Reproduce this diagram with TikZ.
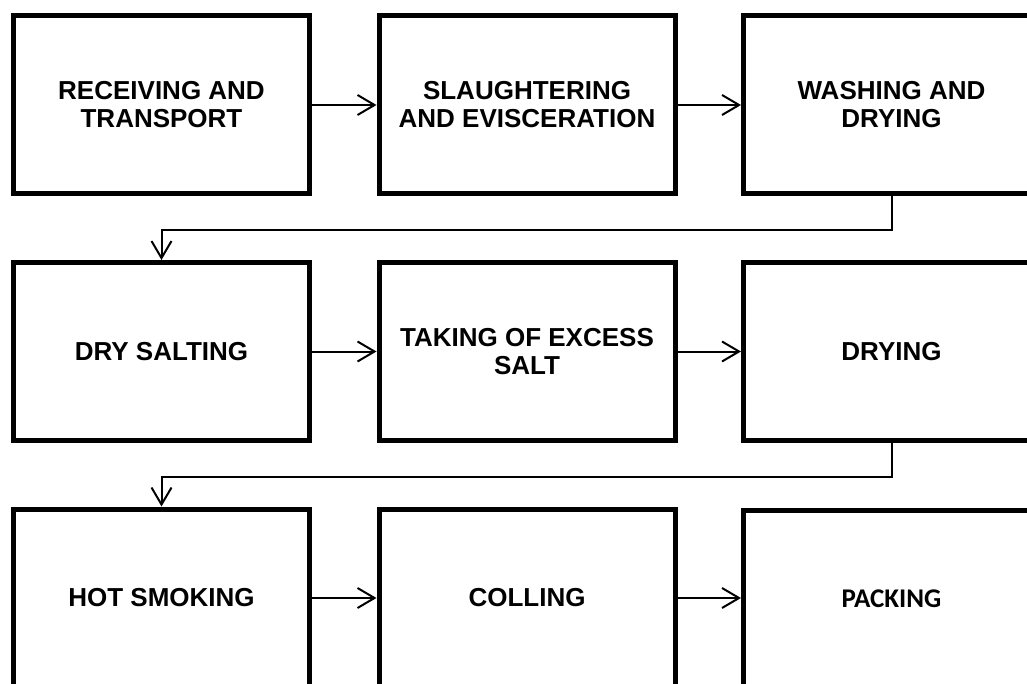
\documentclass[tikz,border=0pt]{standalone}
\usepackage{fontspec}
\setmainfont{Liberation Sans}
\newfontfamily\carlito{Carlito}
\usetikzlibrary{positioning,arrows.meta}

\begin{document}
\begin{tikzpicture}[x=1pt,y=-1pt,
	stagebox/.style={draw,line width=5pt,minimum width=296pt,minimum height=178pt,
		inner sep=0pt,align=center,font=\fontsize{26}{28}\selectfont\bfseries},
	flow/.style={line width=2pt,-{Straight Barb[length=17pt,width=20pt,line width=2pt]}}]
		\useasboundingbox (0,0) rectangle (1027,684);
		\clip (0,0) rectangle (1027,684);
		% first row
		\node[stagebox] (receive) at (161.5,105) {RECEIVING AND\\TRANSPORT};
		\node[stagebox] (slaughter) at (527,105) {SLAUGHTERING\\AND EVISCERATION};
		\node[stagebox] (wash) at (891.5,105) {WASHING AND\\DRYING};
		% second row
		\node[stagebox] (salting) at (161.5,351.5) {DRY SALTING};
		\node[stagebox] (excess) at (527,351.5) {TAKING OF EXCESS\\SALT};
		\node[stagebox] (drying) at (891.5,351.5) {DRYING};
		% third row
		\node[stagebox] (smoking) at (161.5,598) {HOT SMOKING};
		\node[stagebox] (colling) at (527,598) {COLLING};
		\node[stagebox,font=\fontsize{27}{28}\selectfont\carlito\bfseries] (packing) at (891.5,599) {PACKING};
		
		\draw[flow] (receive) -- (slaughter);
		\draw[flow] (slaughter) -- (wash);
		\draw[flow] (wash.south) -- ++(0,34) -| (salting.north);
		\draw[flow] (salting) -- (excess);
		\draw[flow] (excess) -- (drying);
		\draw[flow] (drying.south) -- ++(0,34) -| (smoking.north);
		\draw[flow] (smoking) -- (colling);
		\draw[flow] (colling) -- (packing.west |- colling);
	\end{tikzpicture}
\end{document}
